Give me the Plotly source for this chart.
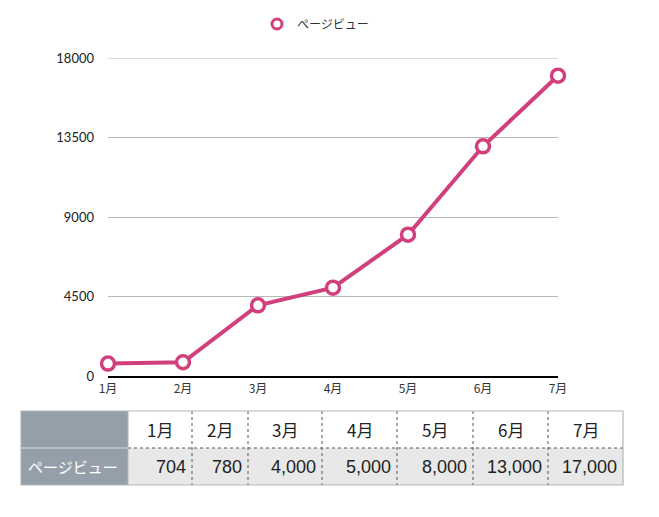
import plotly.graph_objects as go

# ---- data ----
months = ["1月", "2月", "3月", "4月", "5月", "6月", "7月"]
pageviews = [704, 780, 4000, 5000, 8000, 13000, 17000]
series_name = "ページビュー"
y_ticks = [0, 4500, 9000, 13500, 18000]

# ---- layout constants (page has an 8px body margin) ----
OFF = 8
W, H = 659 - 2 * OFF, 517 - 2 * OFF
PLOT_X0, PLOT_X1, PLOT_Y0, PLOT_Y1 = 108, 558, 58, 376  # window pixels
L, T = PLOT_X0 - OFF, PLOT_Y0 - OFF
R, B = W - (PLOT_X1 - OFF), H - (PLOT_Y1 - OFF)
PW, PH = PLOT_X1 - PLOT_X0, PLOT_Y1 - PLOT_Y0
LINE = "#d1407d"
FONT = "Noto Sans CJK JP, Noto Sans, sans-serif"


def px(x):
    return (x - PLOT_X0) / PW


def py(y):
    return (PLOT_Y1 - y) / PH


fig = go.Figure()
fig.add_trace(go.Scatter(
    x=months, y=pageviews, mode="lines+markers", showlegend=False, cliponaxis=False,
    line=dict(color=LINE, width=4),
    marker=dict(size=13, color="white", line=dict(color=LINE, width=3.5)),
))
# legend entry (marker only)
fig.add_trace(go.Scatter(
    x=[None], y=[None], mode="markers", name=series_name,
    marker=dict(size=10, color="white", line=dict(color=LINE, width=3)),
))

shapes = []
annotations = []

# top gridline (Plotly omits the grid line at the range edge)
shapes.append(dict(type="line", xref="paper", yref="y", layer="below",
                   x0=0, x1=1, y0=y_ticks[-1], y1=y_ticks[-1],
                   line=dict(color="#b8b8b8", width=1)))

# ---- table ----
col_edges = [21, 128, 192, 248, 322, 397, 473, 548, 623]
row_edges = [411, 448, 485]
shapes.append(dict(type="rect", xref="paper", yref="paper", layer="below",
                   x0=px(col_edges[0]), x1=px(col_edges[1]), y0=py(row_edges[0]), y1=py(row_edges[2]),
                   fillcolor="#959fa9", line=dict(width=0)))
shapes.append(dict(type="rect", xref="paper", yref="paper", layer="below",
                   x0=px(col_edges[1]), x1=px(col_edges[-1]), y0=py(row_edges[1]), y1=py(row_edges[2]),
                   fillcolor="#e8e8e8", line=dict(width=0)))
shapes.append(dict(type="line", xref="paper", yref="paper",
                   x0=px(col_edges[0]), x1=px(col_edges[1]), y0=py(row_edges[1]), y1=py(row_edges[1]),
                   line=dict(color="#c3c8cd", width=1.5)))
shapes.append(dict(type="line", xref="paper", yref="paper",
                   x0=px(col_edges[1]), x1=px(col_edges[-1]), y0=py(row_edges[1]), y1=py(row_edges[1]),
                   line=dict(color="#555555", width=1, dash="dot")))
for e in col_edges[2:-1]:
    shapes.append(dict(type="line", xref="paper", yref="paper",
                       x0=px(e), x1=px(e), y0=py(row_edges[0]), y1=py(row_edges[2]),
                       line=dict(color="#555555", width=1, dash="dot")))
shapes.append(dict(type="rect", xref="paper", yref="paper",
                   x0=px(col_edges[0]), x1=px(col_edges[-1]), y0=py(row_edges[0]), y1=py(row_edges[2]),
                   line=dict(color="#b5b5b5", width=1.2)))
shapes.append(dict(type="line", xref="paper", yref="paper",
                   x0=px(col_edges[1]), x1=px(col_edges[1]), y0=py(row_edges[0]), y1=py(row_edges[2]),
                   line=dict(color="#b5b5b5", width=1)))

annotations.append(dict(xref="paper", yref="paper", x=px(col_edges[0] + 5), y=py((row_edges[1] + row_edges[2]) / 2),
                        text=series_name, showarrow=False, xanchor="left", yanchor="middle",
                        font=dict(family=FONT, size=15, color="white")))
for i, (m, v) in enumerate(zip(months, pageviews)):
    x0, x1 = col_edges[i + 1], col_edges[i + 2]
    annotations.append(dict(xref="paper", yref="paper", x=px((x0 + x1) / 2), y=py((row_edges[0] + row_edges[1]) / 2),
                            text=m, showarrow=False, xanchor="center", yanchor="middle",
                            font=dict(family=FONT, size=17, color="#222222")))
    annotations.append(dict(xref="paper", yref="paper", x=px(x1 - 4), y=py((row_edges[1] + row_edges[2]) / 2),
                            text=f"{v:,}", showarrow=False, xanchor="right", yanchor="middle",
                            font=dict(family="Liberation Sans, Arial, sans-serif", size=18, color="#222222")))

fig.update_layout(
    width=W, height=H,
    margin=dict(l=L, r=R, t=T, b=B, pad=0, autoexpand=False),
    paper_bgcolor="white", plot_bgcolor="white",
    font=dict(family=FONT, color="#333333"),
    showlegend=True,
    legend=dict(orientation="h", xref="container", yref="container",
                x=(257 - OFF) / W, y=1 - (24 - OFF) / H, xanchor="left", yanchor="middle",
                font=dict(family=FONT, size=12, color="#333333"), bgcolor="rgba(0,0,0,0)"),
    xaxis=dict(type="category", categoryorder="array", categoryarray=months,
               range=[0, len(months) - 1], showgrid=False, showline=True, linecolor="#000000", linewidth=1.5,
               ticks="", tickfont=dict(family=FONT, size=12, color="#333333"), zeroline=False,
               ticklabelstandoff=1, automargin=False),
    yaxis=dict(range=[0, 18000], tickvals=y_ticks, ticktext=[str(t) for t in y_ticks],
               showgrid=True, gridcolor="#b8b8b8", gridwidth=1, zeroline=False, showline=False,
               ticks="", tickfont=dict(family="Lato, sans-serif", size=13, color="#222222"),
               ticklabelstandoff=13, automargin=False),
    shapes=shapes, annotations=annotations,
)

fig.write_html("out.html")
